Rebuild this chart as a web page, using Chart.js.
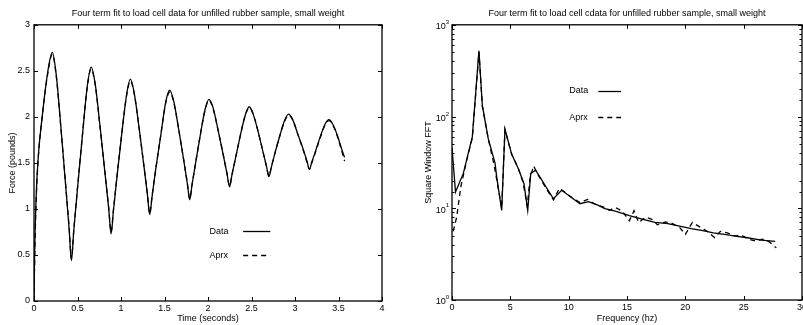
<!DOCTYPE html>
<html lang="en">
<head>
<meta charset="UTF-8">
<title>Four term fit to load cell data for unfilled rubber sample</title>
<style>
    * { margin: 0; padding: 0; box-sizing: border-box; }
    body { width: 803px; height: 325px; overflow: hidden; background: #fff; position: relative; }
    .panel { position: absolute; top: 0; height: 325px; }
    #left { left: 0; width: 400px; }
    #right { left: 400px; width: 412px; }
</style>
</head>
<body>
<div class="panel" id="left"><canvas id="forceChart"></canvas></div>
<div class="panel" id="right"><canvas id="fftChart"></canvas></div>

<script src="https://cdn.jsdelivr.net/npm/chart.js"></script>
<script>
// time domain (seconds) and force (pounds)
const timeSec = [0, 0.007, 0.02, 0.044, 0.094, 0.16, 0.21,
    0.254, 0.309, 0.364, 0.404, 0.43,
    0.457, 0.498, 0.555, 0.612, 0.657,
    0.703, 0.760, 0.817, 0.859, 0.886,
    0.913, 0.953, 1.008, 1.064, 1.108,
    1.152, 1.208, 1.263, 1.303, 1.33,
    1.358, 1.399, 1.457, 1.514, 1.56,
    1.606, 1.664, 1.721, 1.762, 1.79,
    1.816, 1.856, 1.911, 1.966, 2.01,
    2.058, 2.117, 2.177, 2.219, 2.248,
    2.275, 2.316, 2.372, 2.429, 2.474,
    2.519, 2.576, 2.632, 2.673, 2.70,
    2.727, 2.768, 2.824, 2.88, 2.925,
    2.973, 3.033, 3.094, 3.137, 3.166,
    3.193, 3.233, 3.289, 3.345, 3.39,
    3.435, 3.49, 3.54, 3.57];
const forceData = [0, 0.5, 1.0, 1.5, 2.0, 2.5, 2.70,
    2.47, 1.89, 1.25, 0.78, 0.44,
    0.76, 1.20, 1.78, 2.33, 2.54,
    2.36, 1.89, 1.38, 1.00, 0.73,
    0.98, 1.34, 1.81, 2.24, 2.41,
    2.26, 1.88, 1.47, 1.16, 0.94,
    1.14, 1.43, 1.80, 2.16, 2.29,
    2.17, 1.86, 1.53, 1.28, 1.10,
    1.26, 1.49, 1.80, 2.08, 2.19,
    2.10, 1.85, 1.58, 1.38, 1.24,
    1.37, 1.55, 1.80, 2.02, 2.11,
    2.03, 1.84, 1.62, 1.46, 1.35,
    1.45, 1.60, 1.79, 1.96, 2.03,
    1.97, 1.81, 1.65, 1.52, 1.43,
    1.51, 1.62, 1.78, 1.92, 1.97,
    1.92, 1.79, 1.64, 1.56];
const forceAprx = [0, 0.42, 0.95, 1.48, 2.0, 2.48, 2.68,
    2.46, 1.88, 1.26, 0.80, 0.46,
    0.77, 1.21, 1.79, 2.32, 2.52,
    2.35, 1.88, 1.38, 1.01, 0.75,
    0.99, 1.35, 1.81, 2.23, 2.39,
    2.25, 1.88, 1.47, 1.17, 0.95,
    1.15, 1.43, 1.80, 2.15, 2.27,
    2.16, 1.86, 1.53, 1.28, 1.11,
    1.26, 1.49, 1.80, 2.07, 2.18,
    2.09, 1.85, 1.58, 1.38, 1.25,
    1.37, 1.55, 1.80, 2.02, 2.10,
    2.03, 1.84, 1.62, 1.46, 1.36,
    1.45, 1.60, 1.79, 1.95, 2.02,
    1.97, 1.81, 1.64, 1.51, 1.43,
    1.50, 1.61, 1.77, 1.91, 1.96,
    1.91, 1.78, 1.62, 1.52];

// frequency domain (hz) and square window FFT magnitude
const freqData = [0, 0.3, 0.97, 1.74, 2.31, 2.6, 3.11, 3.69, 3.83, 4.26,
    4.54, 5.11, 5.69, 6.17, 6.49, 6.75, 7.17, 8.69, 9.4, 10.97,
    11.7, 12.5, 13.1, 14.0, 15.2, 16.3, 17.4, 18.5, 19.5, 20.5,
    21.5, 22.4, 23.5, 24.4, 25.2, 26.5, 27.7];
const fftData = [46, 15, 24, 60, 521, 132, 57, 31, 22, 9.5,
    73, 39, 27, 18.5, 9.5, 24, 26, 12.7, 15.7, 11.2,
    11.8, 10.8, 9.9, 9.3, 8.3, 7.6, 7.0, 6.8, 6.4, 6.0,
    5.7, 5.4, 5.15, 4.95, 4.8, 4.5, 4.35];
const freqAprx = [0.1, 0.4, 0.75, 1.1, 1.41, 1.74, 2.31, 2.6, 3.11, 3.6,
    3.85, 4.26, 4.54, 5.11, 5.69, 6.1, 6.45, 6.7, 7.0, 7.3,
    8.0, 8.7, 9.2, 9.6, 10.3, 11.0, 11.6, 12.3, 13.0, 13.5,
    14.0, 14.6, 15.2, 15.6, 16.0, 16.6, 17.2, 17.6, 18.3, 18.8,
    19.5, 20.0, 20.6, 21.2, 21.8, 22.5, 23.0, 23.6, 24.2, 24.8,
    25.4, 26.0, 26.6, 27.2, 27.8];
const fftAprx = [5.6, 8, 17, 27, 40, 58, 500, 130, 57, 30,
    20, 10, 72, 39, 27, 19, 10.5, 22, 29, 24,
    17, 12.3, 16.5, 15.2, 13, 11.5, 12.5, 11, 10.3, 9.5,
    10.2, 9.3, 7.3, 9.4, 7.0, 8.0, 7.5, 6.6, 7.1, 6.9,
    6.2, 5.2, 7.0, 6.3, 5.7, 4.8, 5.6, 5.4, 5.0, 5.1,
    4.6, 4.4, 4.6, 4.3, 3.7];

const seriesLabels = ['Data', 'Aprx'];
const FONT = 'Liberation Sans, Arial, sans-serif';

Chart.defaults.font.family = FONT;
Chart.defaults.font.size = 9;
Chart.defaults.color = '#000';

function pairs(xs, ys) {
    return xs.map((x, i) => ({ x: x, y: ys[i] }));
}

function isDecade(v) {
    const l = Math.log10(v);
    return Math.abs(l - Math.round(l)) < 1e-9;
}

// plain number labels: 0, 0.5, 1, 1.5 ...
const plainLabel = v => String(Math.round(v * 100) / 100);

// frame, inward ticks, legend and log labels
const framePlugin = {
    id: 'frame',
    afterDraw(chart, args, opts) {
        const { ctx, chartArea: a, scales } = chart;
        const xs = scales.x, ys = scales.y;
        ctx.save();
        ctx.strokeStyle = '#000';
        ctx.lineWidth = 1.3;
        ctx.strokeRect(a.left, a.top, a.right - a.left, a.bottom - a.top);

        ctx.lineWidth = 1;
        ctx.beginPath();
        xs.ticks.forEach(t => {
            const px = Math.round(xs.getPixelForValue(t.value)) + 0.5;
            ctx.moveTo(px, a.bottom); ctx.lineTo(px, a.bottom - 4);
            ctx.moveTo(px, a.top); ctx.lineTo(px, a.top + 4);
        });
        ys.ticks.forEach(t => {
            const py = Math.round(ys.getPixelForValue(t.value)) + 0.5;
            const len = (opts.logY && !isDecade(t.value)) ? 2.5 : 4;
            ctx.moveTo(a.left, py); ctx.lineTo(a.left + len, py);
            ctx.moveTo(a.right, py); ctx.lineTo(a.right - len, py);
        });
        ctx.stroke();

        // power-of-ten labels with superscript exponents
        if (opts.logY) {
            ys.ticks.forEach(t => {
                if (!isDecade(t.value)) return;
                const py = ys.getPixelForValue(t.value);
                const exp = String(Math.round(Math.log10(t.value)));
                ctx.font = '6px ' + FONT;
                const ew = ctx.measureText(exp).width;
                ctx.textAlign = 'left';
                ctx.textBaseline = 'alphabetic';
                ctx.fillStyle = '#000';
                const right = a.left - 3;
                ctx.fillText(exp, right - ew, py - 1);
                ctx.font = '9px ' + FONT;
                ctx.textAlign = 'right';
                ctx.textBaseline = 'middle';
                ctx.fillText('10', right - ew, py + 2);
            });
        }

        // legend: text then line sample
        const w = a.right - a.left, h = a.bottom - a.top;
        ctx.font = '9px ' + FONT;
        ctx.textAlign = 'left';
        ctx.textBaseline = 'middle';
        chart.data.datasets.forEach((ds, i) => {
            const y = a.top + opts.legendY[i] * h;
            ctx.fillStyle = '#000';
            ctx.fillText(ds.label, a.left + opts.legendX * w, y);
            ctx.beginPath();
            ctx.lineWidth = ds.borderWidth;
            ctx.setLineDash(ds.borderDash || []);
            ctx.moveTo(a.left + opts.lineX0 * w, Math.round(y) + 0.5);
            ctx.lineTo(a.left + opts.lineX1 * w, Math.round(y) + 0.5);
            ctx.stroke();
        });
        ctx.setLineDash([]);
        ctx.restore();
    }
};

function lineSet(label, points, dashed, smooth) {
    return {
        label: label,
        data: points,
        borderColor: '#000',
        borderWidth: 1.3,
        borderDash: dashed ? [5, 4] : [],
        pointRadius: 0,
        fill: false,
        cubicInterpolationMode: smooth ? 'monotone' : 'default',
        tension: 0
    };
}

new Chart(document.getElementById('forceChart'), {
    type: 'line',
    data: {
        datasets: [
            lineSet(seriesLabels[0], pairs(timeSec, forceData), false, true),
            lineSet(seriesLabels[1], pairs(timeSec, forceAprx), true, true)
        ]
    },
    options: {
        responsive: true,
        maintainAspectRatio: false,
        animation: false,
        layout: { padding: { top: 0, right: 18, bottom: 0, left: 0 } },
        plugins: {
            legend: { display: false },
            tooltip: { enabled: false },
            title: {
                display: true,
                fullSize: false,
                text: 'Four term fit to load cell data for unfilled rubber sample, small weight',
                font: { size: 9, weight: 'normal' },
                padding: { top: 8, bottom: 6 }
            },
            frame: { logY: false, legendX: 0.504, lineX0: 0.601, lineX1: 0.679, legendY: [0.748, 0.835] }
        },
        scales: {
            x: {
                type: 'linear',
                min: 0, max: 4,
                grid: { display: false, drawTicks: false },
                border: { display: false },
                ticks: { stepSize: 0.5, padding: 2, maxRotation: 0, callback: plainLabel },
                title: { display: true, text: 'Time (seconds)', padding: { top: 0, bottom: 1.5 } },
                afterFit: s => { s.height = 24; }
            },
            y: {
                type: 'linear',
                min: 0, max: 3,
                grid: { display: false, drawTicks: false },
                border: { display: false },
                ticks: { stepSize: 0.5, padding: 4, callback: plainLabel },
                title: { display: true, text: 'Force (pounds)', padding: { top: 7, bottom: 0 } },
                afterFit: s => { s.width = 34; }
            }
        }
    },
    plugins: [framePlugin]
});

new Chart(document.getElementById('fftChart'), {
    type: 'line',
    data: {
        datasets: [
            lineSet(seriesLabels[0], pairs(freqData, fftData), false, false),
            lineSet(seriesLabels[1], pairs(freqAprx, fftAprx), true, false)
        ]
    },
    options: {
        responsive: true,
        maintainAspectRatio: false,
        animation: false,
        layout: { padding: { top: 0, right: 10, bottom: 0, left: 0 } },
        plugins: {
            legend: { display: false },
            tooltip: { enabled: false },
            title: {
                display: true,
                fullSize: false,
                text: 'Four term fit to load cell cdata for unfilled rubber sample, small weight',
                font: { size: 9, weight: 'normal' },
                padding: { top: 8, bottom: 6 }
            },
            frame: { logY: true, legendX: 0.335, lineX0: 0.418, lineX1: 0.483, legendY: [0.239, 0.336] }
        },
        scales: {
            x: {
                type: 'linear',
                min: 0, max: 30,
                grid: { display: false, drawTicks: false },
                border: { display: false },
                ticks: { stepSize: 5, padding: 2, maxRotation: 0, callback: plainLabel },
                title: { display: true, text: 'Frequency (hz)', padding: { top: 0, bottom: 1.5 } },
                afterFit: s => { s.height = 25; }
            },
            y: {
                type: 'logarithmic',
                min: 1, max: 1000,
                grid: { display: false, drawTicks: false },
                border: { display: false },
                ticks: { display: false },
                title: { display: true, text: 'Square Window FFT', padding: { top: 23.5, bottom: 0 } },
                afterFit: s => { s.width = 52; }
            }
        }
    },
    plugins: [framePlugin]
});
</script>
</body>
</html>
